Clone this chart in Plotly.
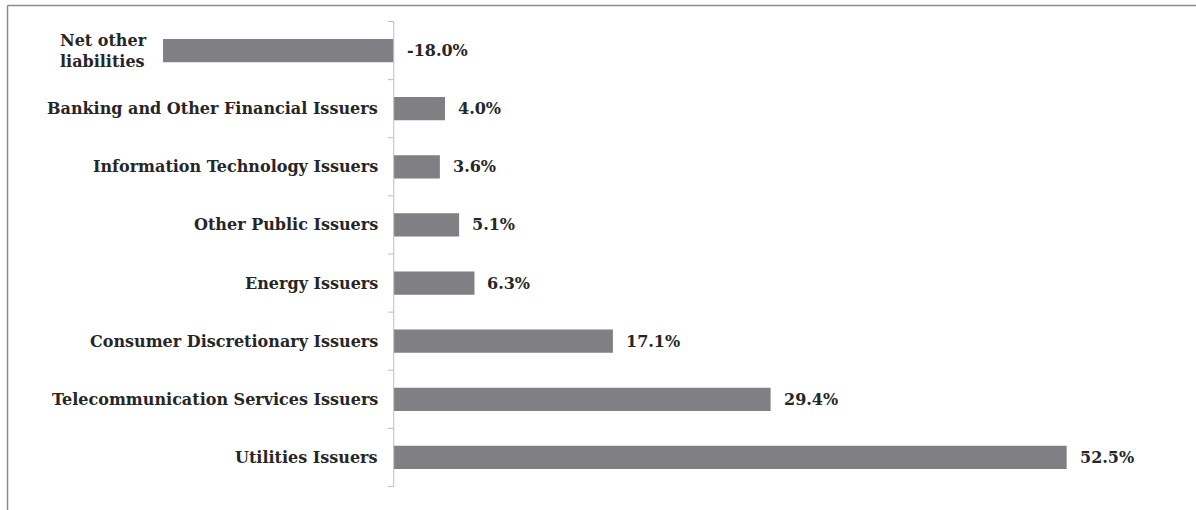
import plotly.graph_objects as go

categories = [
    "Net other<br>liabilities",
    "Banking and Other Financial Issuers",
    "Information Technology Issuers",
    "Other Public Issuers",
    "Energy Issuers",
    "Consumer Discretionary Issuers",
    "Telecommunication Services Issuers",
    "Utilities Issuers",
]
values = [-18.0, 4.0, 3.6, 5.1, 6.3, 17.1, 29.4, 52.5]

W, H = 1196, 510
ML, MR, MT, MB = 163, 46, 21, 23
PW, PH = W - ML - MR, H - MT - MB

FONT = "DejaVu Serif"
FS = 16
TXT = "#262626"
BAR = "#7f7f84"
AX = "#bfbfbf"

fig = go.Figure()
fig.add_trace(go.Bar(
    y=categories, x=values, orientation="h",
    marker=dict(color=BAR, line=dict(width=0)),
    hoverinfo="skip",
))

ann = []
for c, v in zip(categories, values):
    ann.append(dict(x=max(v, 0), y=c, xref="x", yref="y", text=f"<b>{v:.1f}%</b>",
                    showarrow=False, xanchor="left", xshift=11,
                    font=dict(family=FONT, size=FS, color=TXT)))
    if "<br>" in c:
        ann.append(dict(x=(58 - ML) / PW, y=c, xref="paper", yref="y", text=f"<b>{c}</b>",
                        showarrow=False, xanchor="left", align="left",
                        font=dict(family=FONT, size=FS, color=TXT)))
    else:
        ann.append(dict(x=0, y=c, xref="x", yref="y", text=f"<b>{c}</b>",
                        showarrow=False, xanchor="right", xshift=-14,
                        font=dict(family=FONT, size=FS, color=TXT)))

shapes = [
    dict(type="line", xref="x", yref="paper", x0=0, x1=0, y0=0, y1=1,
         line=dict(color=AX, width=1)),
]
n = len(categories)
for i in range(n + 1):
    shapes.append(dict(type="line", xref="x", yref="y", xsizemode="pixel", xanchor=0,
                       x0=-6, x1=0, y0=i - 0.5, y1=i - 0.5, line=dict(color=AX, width=1)))

# outer frame (top and left)
def px_x(p):
    return (p - ML) / PW

def px_y(p):
    return (H - MB - p) / PH

shapes.append(dict(type="line", xref="paper", yref="paper", x0=px_x(7.5), x1=px_x(W + 10),
                   y0=px_y(5.5), y1=px_y(5.5), line=dict(color="#8c8c8c", width=1.5)))
shapes.append(dict(type="line", xref="paper", yref="paper", x0=px_x(7.5), x1=px_x(7.5),
                   y0=px_y(5.5), y1=px_y(H + 10), line=dict(color="#8c8c8c", width=1.5)))

fig.update_layout(
    width=W, height=H,
    margin=dict(l=ML, r=MR, t=MT, b=MB, pad=0),
    paper_bgcolor="white", plot_bgcolor="white",
    showlegend=False,
    bargap=0.6,
    xaxis=dict(range=[-18, 59], showgrid=False, zeroline=False, showticklabels=False,
               showline=False, ticks="", fixedrange=True),
    yaxis=dict(autorange="reversed", showgrid=False, zeroline=False, showticklabels=False,
               showline=False, ticks="", fixedrange=True),
    annotations=ann,
    shapes=shapes,
)

fig.write_html("out.html", config={"displayModeBar": False},
               post_script="document.body.style.margin='0';document.body.style.overflow='hidden';")
